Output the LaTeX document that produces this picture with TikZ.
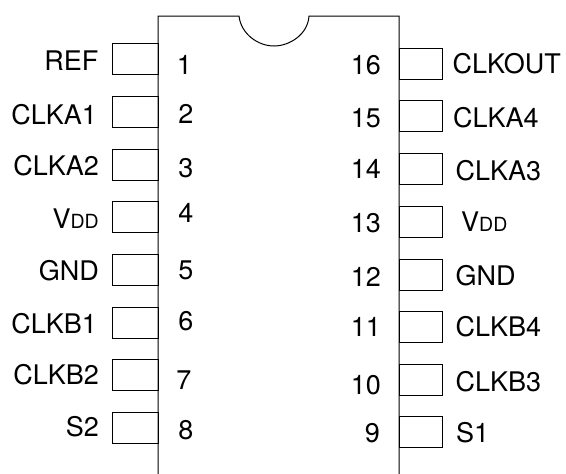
\documentclass[tikz,border=0pt]{standalone}
\usepackage{fontspec}
\setmainfont{TeX Gyre Heros}
\newcommand{\vdd}{V{\fontsize{19.5}{19.5}\selectfont DD}}
\tikzset{
  x=1pt,y=-1pt,
  lineblk/.style={draw=black,line width=1pt},
  pinbox/.style={lineblk,rectangle,inner sep=0pt,minimum height=31pt,anchor=north west},
  leftpin/.style={pinbox,minimum width=46pt},
  rightpin/.style={pinbox,minimum width=42.5pt},
  lbl/.style={inner sep=0pt,font=\fontsize{27}{28}\selectfont,text=black},
  lefttxt/.style={lbl,anchor=base east},
  righttxt/.style={lbl,anchor=base west},
  numc/.style={lbl,anchor=base},
  nume/.style={lbl,anchor=base east},
}
\begin{document}
\begin{tikzpicture}
\useasboundingbox (0,0) rectangle (566,474);
\draw[lineblk] (158,474) -- (158,16) -- (239,16)
  .. controls (241,34) and (258,46) .. (274,46)
  .. controls (290,46) and (308,34) .. (309,16)
  -- (399,16) -- (399,474);
% left pins
\node[leftpin] (lp1) at (112,43) {};
\node[leftpin] (lp2) at (112,96) {};
\node[leftpin] (lp3) at (112,149) {};
\node[leftpin] (lp4) at (112,201) {};
\node[leftpin] (lp5) at (112,254) {};
\node[leftpin] (lp6) at (112,306.5) {};
\node[leftpin] (lp7) at (112,359) {};
\node[leftpin] (lp8) at (112,412) {};
% right pins
\node[rightpin] (rp16) at (399,47.5) {};
\node[rightpin] (rp15) at (399,100) {};
\node[rightpin] (rp14) at (399,153) {};
\node[rightpin] (rp13) at (399,206) {};
\node[rightpin] (rp12) at (399,258.5) {};
\node[rightpin] (rp11) at (399,311) {};
\node[rightpin] (rp10) at (399,364) {};
\node[rightpin] (rp9) at (399,416) {};
% left labels
\node[lefttxt] (l1) at (98.5,70) {REF};
\node[lefttxt] (l2) at (97,124) {CLKA1};
\node[lefttxt] (l3) at (99,175) {CLKA2};
\node[lefttxt] (l4) at (99,228) {\vdd};
\node[lefttxt] (l5) at (99,280) {GND};
\node[lefttxt] (l6) at (97,333) {CLKB1};
\node[lefttxt] (l7) at (99,384) {CLKB2};
\node[lefttxt] (l8) at (99,436) {S2};
% left numbers
\node[numc] (n1) at (184.5,74) {1};
\node[numc] (n2) at (186,123) {2};
\node[numc] (n3) at (186,177) {3};
\node[numc] (n4) at (186,222) {4};
\node[numc] (n5) at (186,279) {5};
\node[numc] (n6) at (186,330) {6};
\node[numc] (n7) at (184,389) {7};
\node[numc] (n8) at (186,439) {8};
% right numbers
\node[nume] (n16) at (381,74) {16};
\node[nume] (n15) at (381,127) {15};
\node[nume] (n14) at (381,178) {14};
\node[nume] (n13) at (381,232) {13};
\node[nume] (n12) at (381,286) {12};
\node[nume] (n11) at (381,336) {11};
\node[nume] (n10) at (381,394) {10};
\node[nume] (n9) at (380,442) {9};
% right labels
\node[righttxt] (r16) at (452.5,73) {CLKOUT};
\node[righttxt] (r15) at (453,127) {CLKA4};
\node[righttxt] (r14) at (455.5,180) {CLKA3};
\node[righttxt] (r13) at (461,231) {\vdd};
\node[righttxt] (r12) at (455.5,285) {GND};
\node[righttxt] (r11) at (455.5,336) {CLKB4};
\node[righttxt] (r10) at (455.5,391) {CLKB3};
\node[righttxt] (r9) at (456,442) {S1};
\end{tikzpicture}
\end{document}
